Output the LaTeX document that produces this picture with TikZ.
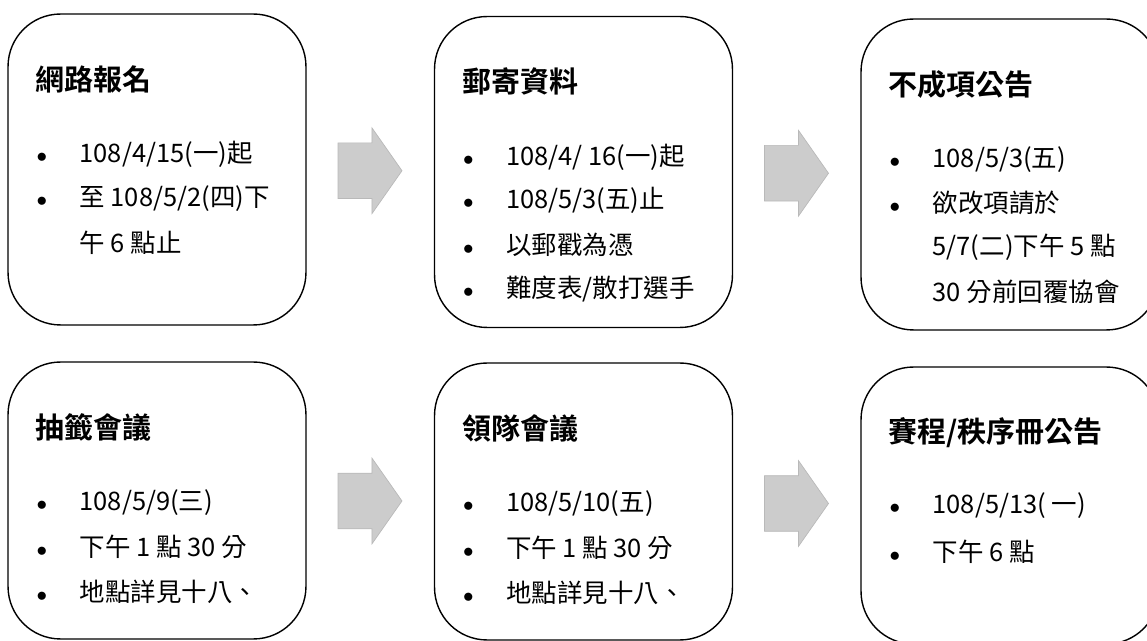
\documentclass[tikz,border=0pt]{standalone}
\usepackage{fontspec}
\setmainfont{Noto Sans CJK TC}[BoldFont={Noto Sans CJK TC Bold}]
\usetikzlibrary{shapes.arrows,calc}

\newcommand{\bul}{\makebox[0.86cm][l]{\fontsize{12}{12}\selectfont$\bullet$}}
\newcommand{\nobul}{\makebox[0.86cm][l]{}}

\begin{document}
\begin{tikzpicture}[x=0.02cm, y=-0.02cm,
        stage/.style={draw, line width=0.8pt, rounded corners=1.05cm, minimum width=5.96cm, inner sep=0pt},
        ttl/.style={anchor=west, inner sep=0pt, font=\fontsize{16.5}{19}\selectfont\bfseries},
        item/.style={anchor=west, inner sep=0pt, font=\fontsize{14.5}{17}\selectfont},
        flow/.style={single arrow, fill=gray!40, draw=gray!55, inner xsep=0pt, inner ysep=0.55cm, minimum height=1.28cm, single arrow head extend=0.3cm, single arrow tip angle=110, xshift=-0.2cm}]
        \useasboundingbox (0,0) rectangle (1147,641);
        % top row
        \node[stage, minimum height=6.22cm] (reg) at (157,169.5) {};
        \node[stage, minimum height=6.22cm] (mail) at (583.5,172) {};
        \node[stage, minimum height=6.22cm] (fail) at (1010,174.5) {};
        % bottom row
        \node[stage, minimum height=5.54cm] (lots) at (157,500.5) {};
        \node[stage, minimum height=5.54cm] (lead) at (583.5,501.5) {};
        \node[stage, minimum height=5.54cm] (sched) at (1010,505.5) {};
        % arrows
        \node[flow] (a1) at ($(reg.east)!0.5!(mail.west)$) {};
        \node[flow] (a2) at ($(mail.east)!0.5!(fail.west)$) {};
        \node[flow] (a3) at ($(lots.east)!0.5!(lead.west)$) {};
        \node[flow] (a4) at ($(lead.east)!0.5!(sched.west)$) {};
        % 網路報名
        \node[ttl] (reg-t) at ([shift={(28,66)}]reg.north west) {網路報名};
        \node[item] (reg-1) at ([shift={(29,141)}]reg.north west) {\bul 108/4/15(一)起};
        \node[item] (reg-2) at ([shift={(29,185)}]reg.north west) {\bul 至 108/5/2(四)下};
        \node[item] (reg-3) at ([shift={(29,229)}]reg.north west) {\nobul 午 6 點止};
        % 郵寄資料
        \node[ttl] (mail-t) at ([shift={(28,66)}]mail.north west) {郵寄資料};
        \node[item] (mail-1) at ([shift={(29,141)}]mail.north west) {\bul 108/4/ 16(一)起};
        \node[item] (mail-2) at ([shift={(29,185)}]mail.north west) {\bul 108/5/3(五)止};
        \node[item] (mail-3) at ([shift={(29,229)}]mail.north west) {\bul 以郵戳為憑};
        \node[item] (mail-4) at ([shift={(29,273)}]mail.north west) {\bul 難度表/散打選手};
        % 不成項公告
        \node[ttl] (fail-t) at ([shift={(28,66)}]fail.north west) {不成項公告};
        \node[item] (fail-1) at ([shift={(29,141)}]fail.north west) {\bul 108/5/3(五)};
        \node[item] (fail-2) at ([shift={(29,185)}]fail.north west) {\bul 欲改項請於};
        \node[item] (fail-3) at ([shift={(29,229)}]fail.north west) {\nobul 5/7(二)下午 5 點};
        \node[item] (fail-4) at ([shift={(29,273)}]fail.north west) {\nobul 30 分前回覆協會};
        % 抽籤會議
        \node[ttl] (lots-t) at ([shift={(28,66)}]lots.north west) {抽籤會議};
        \node[item] (lots-1) at ([shift={(29,141)}]lots.north west) {\bul 108/5/9(三)};
        \node[item] (lots-2) at ([shift={(29,186)}]lots.north west) {\bul 下午 1 點 30 分};
        \node[item] (lots-3) at ([shift={(29,231)}]lots.north west) {\bul 地點詳見十八、};
        % 領隊會議
        \node[ttl] (lead-t) at ([shift={(28,66)}]lead.north west) {領隊會議};
        \node[item] (lead-1) at ([shift={(29,141)}]lead.north west) {\bul 108/5/10(五)};
        \node[item] (lead-2) at ([shift={(29,186)}]lead.north west) {\bul 下午 1 點 30 分};
        \node[item] (lead-3) at ([shift={(29,231)}]lead.north west) {\bul 地點詳見十八、};
        % 賽程/秩序冊公告
        \node[ttl] (sched-t) at ([shift={(28,66)}]sched.north west) {賽程/秩序冊公告};
        \node[item] (sched-1) at ([shift={(29,139)}]sched.north west) {\bul 108/5/13( 一)};
        \node[item] (sched-2) at ([shift={(29,185)}]sched.north west) {\bul 下午 6 點};
\end{tikzpicture}
\end{document}
